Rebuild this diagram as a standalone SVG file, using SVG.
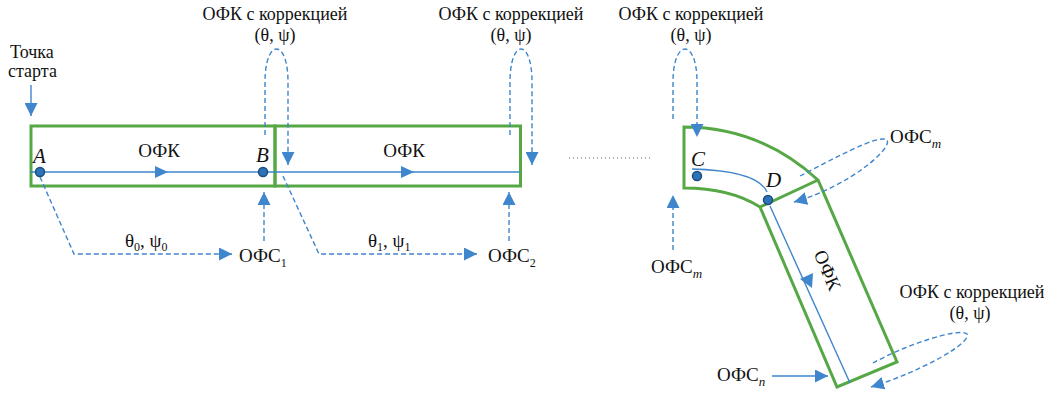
<svg xmlns="http://www.w3.org/2000/svg" width="1063" height="398" viewBox="0 0 1063 398">
<defs>
<style>
text{font-family:"Liberation Serif","Tinos","DejaVu Serif",serif;font-size:19px;fill:#111}
.two{font-size:18px}
.it{font-style:italic;font-size:21px}
.sub{font-size:12px}
.subi{font-size:13px;font-style:italic}
.mid{text-anchor:middle}
.box{fill:none;stroke:#55A845;stroke-width:3;stroke-linejoin:miter}
.ln{fill:none;stroke:#3F86CC;stroke-width:1.4}
.ds{fill:none;stroke:#3F86CC;stroke-width:1.4;stroke-dasharray:5,3}
.ah{fill:#3F86CC}
.dot{fill:#2E72B8;stroke:#1D4E82;stroke-width:1.5}
</style>
<marker id="arr" viewBox="0 0 10 10" refX="10" refY="5" markerWidth="13" markerHeight="13" markerUnits="userSpaceOnUse" orient="auto">
<path d="M0,0 L10,5 L0,10 Z" fill="#3F86CC"/>
</marker>
</defs>
<rect width="1063" height="398" fill="#fff"/>

<g id="start">
<text class="two" x="10" y="58">Точка</text>
<text class="two" x="8" y="77">старта</text>
</g>

<g id="segment1">
<rect class="box" x="31" y="126" width="244" height="60"/>
<text class="mid" x="159" y="157">ОФК</text>
</g>
<g id="segment2">
<rect class="box" x="275" y="126" width="245.5" height="60"/>
<text class="mid" x="404" y="157">ОФК</text>
</g>
<g id="segment3">
<path class="box" d="M684,127 Q760,127 818,180 L897,362 L837,387 L760,207 Q730,188 684,188 Z M760,207 L818,180"/>
<text class="mid" transform="translate(828,270) rotate(67)" x="0" y="7">ОФК</text>
</g>

<g id="connectors">
<path class="ln" d="M31,85 L31,116" marker-end="url(#arr)"/>
<path class="ln" d="M30,172 L520,172"/>
<polygon class="ah" points="155,166 168,172 155,178"/>
<polygon class="ah" points="401,166 414,172 401,178"/>
<path class="ds" d="M40,177 L74,254 L232,254" marker-end="url(#arr)"/>
<path class="ds" d="M283,176 L319,254 L477,254" marker-end="url(#arr)"/>
<path class="ds" d="M264,241 L264,192" marker-end="url(#arr)"/>
<path class="ds" d="M509,241 L509,192" marker-end="url(#arr)"/>
<path class="ds" d="M265,135 L265,82 C265,38 288,38 288,82 L288,165" marker-end="url(#arr)"/>
<path class="ds" d="M510,135 L510,82 C510,38 532,38 532,82 L532,165" marker-end="url(#arr)"/>
<path class="ds" d="M673,119 L673,82 C673,38 697,38 697,82 L697,137" marker-end="url(#arr)"/>
<path class="ds" d="M673,250 L673,195" marker-end="url(#arr)"/>
<path class="ln" d="M692,169 C730,170 760,176 767,192"/>
<path class="ln" d="M770,206 L850,383"/>
<polygon class="ah" points="800,279 812,288 813,273"/>
<path class="ds" d="M800,176 C835,158 878,134 887,140 C893,148 850,186 794,202" marker-end="url(#arr)"/>
<path class="ds" d="M873,363 C905,345 960,327 967,334 C972,343 920,372 871,387" marker-end="url(#arr)"/>
<path class="ln" d="M772,376 L828,376" marker-end="url(#arr)"/>
<path d="M569,158 L653,158" fill="none" stroke="#666" stroke-width="1" stroke-dasharray="1,3"/>
</g>

<g id="pointA"><circle class="dot" cx="40" cy="172" r="4.5"/><text class="it" x="33" y="163">A</text></g>
<g id="pointB"><circle class="dot" cx="263" cy="172" r="4.5"/><text class="it" x="256" y="162">B</text></g>
<g id="pointC"><circle class="dot" cx="697" cy="176" r="4.5"/><text class="it" x="691" y="166">C</text></g>
<g id="pointD"><circle class="dot" cx="768" cy="200" r="4.5"/><text class="it" x="766" y="187">D</text></g>

<g id="corr1"><text class="mid two" x="275" y="20">ОФК с коррекцией</text><text class="mid two" x="275" y="41">(θ, ψ)</text></g>
<g id="corr2"><text class="mid two" x="511" y="20">ОФК с коррекцией</text><text class="mid two" x="511" y="41">(θ, ψ)</text></g>
<g id="corr3"><text class="mid two" x="691" y="20">ОФК с коррекцией</text><text class="mid two" x="691" y="41">(θ, ψ)</text></g>
<g id="corr4"><text class="mid two" x="972" y="298">ОФК с коррекцией</text><text class="mid two" x="970" y="319">(θ, ψ)</text></g>

<g id="angles0"><text x="125" y="247">θ<tspan class="sub" dy="4">0</tspan><tspan dy="-4">, ψ</tspan><tspan class="sub" dy="4">0</tspan></text></g>
<g id="angles1"><text x="368" y="247">θ<tspan class="sub" dy="4">1</tspan><tspan dy="-4">, ψ</tspan><tspan class="sub" dy="4">1</tspan></text></g>

<g id="ofs1"><text x="239" y="262">ОФС<tspan class="sub" dy="5">1</tspan></text></g>
<g id="ofs2"><text x="488" y="262">ОФС<tspan class="sub" dy="5">2</tspan></text></g>
<g id="ofsm1"><text x="651" y="273">ОФС<tspan class="subi" dy="5">m</tspan></text></g>
<g id="ofsm2"><text x="890" y="143">ОФС<tspan class="subi" dy="5">m</tspan></text></g>
<g id="ofsn"><text x="717" y="381">ОФС<tspan class="subi" dy="5">n</tspan></text></g>
</svg>
